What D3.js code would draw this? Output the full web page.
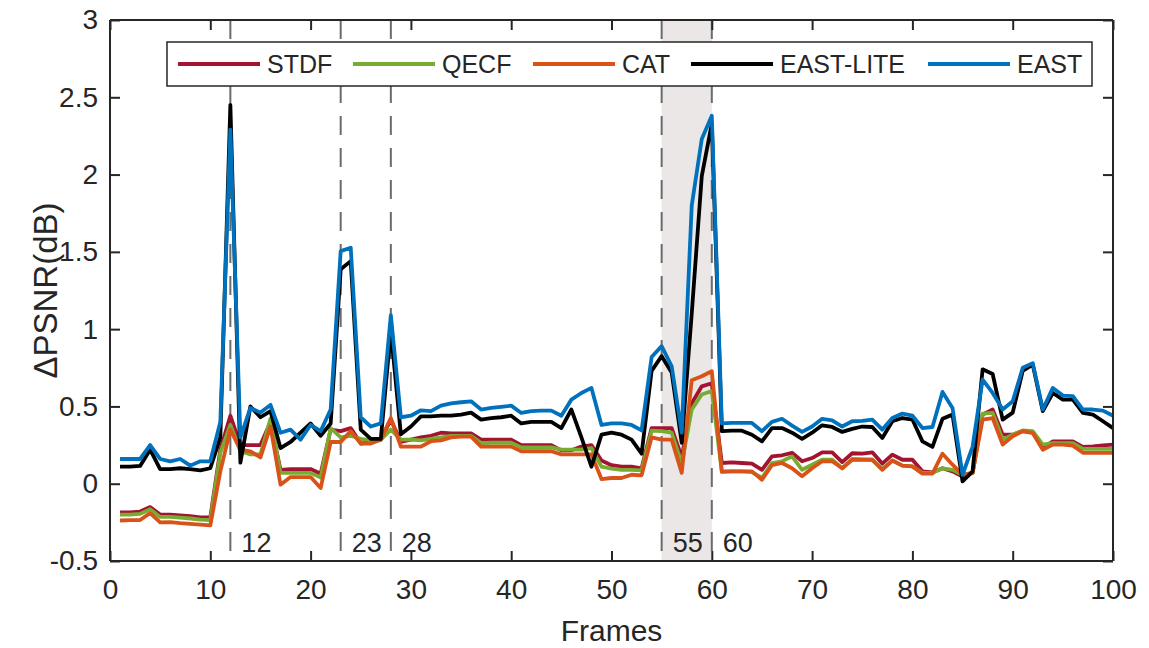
<!DOCTYPE html>
<html>
<head>
<meta charset="utf-8">
<script src="https://cdn.jsdelivr.net/npm/d3@7/dist/d3.min.js"></script>
<style>
  html, body { margin: 0; padding: 0; background: #fff; }
  svg text { font-family: "Liberation Sans", Arial, sans-serif; fill: #262626; }
</style>
</head>
<body>
<svg id="chart" width="1149" height="648"></svg>
<script>
const frames = d3.range(1, 101);
const seriesNames = ["STDF", "QECF", "CAT", "EAST-LITE", "EAST"];
const seriesColors = ["#A2142F", "#77AC30", "#D95319", "#000000", "#0072BD"];

const STDF = [-0.186,-0.186,-0.18,-0.151,-0.20,-0.20,-0.205,-0.21,-0.218,-0.218,
  0.22,0.44,0.25,0.25,0.25,0.40,0.09,0.095,0.095,0.095,
  0.065,0.35,0.34,0.36,0.26,0.27,0.285,0.415,0.27,0.285,
  0.30,0.31,0.33,0.325,0.325,0.325,0.285,0.285,0.285,0.285,
  0.25,0.25,0.25,0.25,0.216,0.216,0.24,0.25,0.15,0.12,
  0.11,0.11,0.10,0.36,0.36,0.36,0.17,0.52,0.63,0.65,
  0.134,0.138,0.134,0.13,0.09,0.177,0.184,0.20,0.145,0.166,
  0.203,0.203,0.14,0.197,0.194,0.203,0.13,0.188,0.155,0.155,
  0.08,0.073,0.10,0.08,0.047,0.07,0.447,0.48,0.317,0.317,
  0.34,0.333,0.23,0.274,0.274,0.274,0.238,0.242,0.248,0.253];
const QECF = [-0.20,-0.20,-0.195,-0.165,-0.215,-0.215,-0.22,-0.225,-0.232,-0.235,
  0.20,0.38,0.21,0.19,0.19,0.42,0.07,0.07,0.07,0.07,
  0.04,0.36,0.30,0.31,0.29,0.28,0.285,0.35,0.285,0.285,
  0.28,0.29,0.30,0.31,0.31,0.31,0.263,0.265,0.265,0.265,
  0.235,0.235,0.235,0.235,0.22,0.22,0.22,0.23,0.11,0.097,
  0.09,0.09,0.086,0.343,0.34,0.33,0.13,0.48,0.577,0.60,
  0.08,0.08,0.08,0.075,0.037,0.134,0.145,0.177,0.09,0.123,
  0.155,0.155,0.10,0.16,0.157,0.155,0.095,0.15,0.117,0.112,
  0.07,0.07,0.10,0.09,0.058,0.07,0.454,0.458,0.285,0.317,
  0.345,0.34,0.253,0.263,0.263,0.263,0.225,0.225,0.225,0.225];
const CAT = [-0.238,-0.235,-0.235,-0.19,-0.25,-0.248,-0.255,-0.26,-0.265,-0.27,
  0.08,0.35,0.22,0.21,0.17,0.37,-0.006,0.043,0.043,0.043,
  -0.028,0.27,0.27,0.34,0.26,0.26,0.285,0.425,0.24,0.24,
  0.24,0.275,0.28,0.30,0.305,0.305,0.24,0.24,0.24,0.24,
  0.21,0.21,0.21,0.21,0.19,0.19,0.19,0.19,0.03,0.037,
  0.037,0.058,0.054,0.30,0.285,0.285,0.07,0.67,0.695,0.728,
  0.076,0.08,0.08,0.08,0.026,0.12,0.134,0.10,0.048,0.10,
  0.145,0.145,0.10,0.155,0.155,0.155,0.09,0.15,0.117,0.112,
  0.065,0.065,0.194,0.123,0.058,0.07,0.415,0.425,0.253,0.307,
  0.34,0.328,0.22,0.253,0.253,0.246,0.20,0.20,0.20,0.20];
const EAST_LITE = [0.11,0.11,0.115,0.22,0.095,0.095,0.10,0.095,0.086,0.10,
  0.30,2.45,0.136,0.50,0.43,0.47,0.23,0.27,0.33,0.39,
  0.31,0.39,1.387,1.44,0.35,0.29,0.29,0.99,0.32,0.37,
  0.436,0.436,0.44,0.44,0.447,0.46,0.415,0.425,0.43,0.44,
  0.39,0.40,0.40,0.40,0.36,0.48,0.30,0.11,0.317,0.33,
  0.317,0.285,0.194,0.73,0.825,0.72,0.265,1.10,1.99,2.33,
  0.34,0.343,0.343,0.317,0.274,0.36,0.36,0.33,0.29,0.33,
  0.378,0.367,0.335,0.355,0.37,0.367,0.296,0.404,0.425,0.415,
  0.274,0.238,0.42,0.447,0.015,0.08,0.74,0.71,0.415,0.46,
  0.73,0.77,0.47,0.587,0.544,0.544,0.458,0.447,0.404,0.36];
const EAST = [0.16,0.16,0.16,0.25,0.16,0.145,0.16,0.117,0.145,0.145,
  0.40,2.29,0.30,0.49,0.46,0.51,0.33,0.35,0.285,0.38,
  0.34,0.48,1.505,1.527,0.43,0.37,0.39,1.09,0.43,0.44,
  0.475,0.47,0.505,0.52,0.527,0.533,0.48,0.49,0.497,0.505,
  0.458,0.47,0.473,0.473,0.44,0.544,0.587,0.62,0.38,0.39,
  0.39,0.38,0.345,0.82,0.89,0.76,0.33,1.80,2.23,2.38,
  0.39,0.393,0.393,0.393,0.34,0.40,0.42,0.376,0.335,0.37,
  0.42,0.41,0.37,0.404,0.406,0.415,0.35,0.425,0.454,0.44,
  0.36,0.367,0.594,0.49,0.058,0.24,0.674,0.587,0.48,0.533,
  0.75,0.78,0.48,0.62,0.57,0.566,0.48,0.48,0.473,0.44];

const xTicks = [0,10,20,30,40,50,60,70,80,90,100];
const yTicks = [-0.5,0,0.5,1,1.5,2,2.5,3];
const markedFrames = [12, 23, 28, 55, 60];
const shadedRange = [55, 60];

const allSeries = [STDF, QECF, CAT, EAST_LITE, EAST];

const svg = d3.select("#chart");
const m = {left: 110, right: 1113, top: 20, bottom: 561};
const x = d3.scaleLinear().domain([0, 100]).range([m.left, m.right]);
const y = d3.scaleLinear().domain([-0.5, 3]).range([m.bottom, m.top]);

const defs = svg.append("defs");
defs.append("clipPath").attr("id", "clip").append("rect")
  .attr("x", m.left).attr("y", m.top).attr("width", m.right - m.left).attr("height", m.bottom - m.top);

// shaded region
svg.append("rect")
  .attr("x", x(shadedRange[0])).attr("y", m.top)
  .attr("width", x(shadedRange[1]) - x(shadedRange[0]))
  .attr("height", m.bottom - m.top)
  .attr("fill", "#ebe7e7");

// dashed marker lines
svg.append("g").selectAll("line").data(markedFrames).join("line")
  .attr("x1", d => x(d)).attr("x2", d => x(d))
  .attr("y1", m.top).attr("y2", m.bottom)
  .attr("stroke", "#6b6b6b").attr("stroke-width", 2)
  .attr("stroke-dasharray", "19,13");

// series lines
const line = d3.line().x((d, i) => x(frames[i])).y(d => y(d));
const gLines = svg.append("g").attr("clip-path", "url(#clip)");
allSeries.forEach((s, k) => {
  gLines.append("path").datum(s)
    .attr("d", line)
    .attr("fill", "none")
    .attr("stroke", seriesColors[k])
    .attr("stroke-width", 3.8)
    .attr("stroke-linejoin", "round");
});

// marker labels
svg.append("g").selectAll("text").data(markedFrames).join("text")
  .attr("x", d => x(d) + 11).attr("y", 552)
  .attr("font-size", 27)
  .text(d => d);

// axes
const axisColor = "#262626";
const xAxis = svg.append("g").attr("transform", `translate(0,${m.bottom})`)
  .call(d3.axisBottom(x).tickValues(xTicks).tickSize(-10).tickPadding(18).tickFormat(d => String(d)));
const xAxisTop = svg.append("g").attr("transform", `translate(0,${m.top})`)
  .call(d3.axisTop(x).tickValues(xTicks).tickSize(-10).tickFormat(""));
const yAxis = svg.append("g").attr("transform", `translate(${m.left},0)`)
  .call(d3.axisLeft(y).tickValues(yTicks).tickSize(-10).tickPadding(12).tickFormat(d => String(d)));
const yAxisRight = svg.append("g").attr("transform", `translate(${m.right},0)`)
  .call(d3.axisRight(y).tickValues(yTicks).tickSize(-10).tickFormat(""));

[xAxis, xAxisTop, yAxis, yAxisRight].forEach(g => {
  g.select(".domain").attr("stroke", axisColor).attr("stroke-width", 2);
  g.selectAll(".tick line").attr("stroke", axisColor).attr("stroke-width", 2);
  g.selectAll(".tick text").attr("font-size", 28).attr("fill", axisColor)
    .attr("font-family", "'Liberation Sans', Arial, sans-serif");
});
xAxis.selectAll(".domain").attr("d", `M${m.left},0H${m.right}`);
yAxis.selectAll(".domain").attr("d", `M0,${m.bottom}V${m.top}`);
xAxisTop.selectAll(".domain").attr("d", `M${m.left},0H${m.right}`);
yAxisRight.selectAll(".domain").attr("d", `M0,${m.bottom}V${m.top}`);

// axis titles
svg.append("text")
  .attr("x", (m.left + m.right) / 2).attr("y", 641)
  .attr("text-anchor", "middle").attr("font-size", 30)
  .text("Frames");
svg.append("text")
  .attr("transform", `translate(57,${(m.top + m.bottom) / 2}) rotate(-90)`)
  .attr("text-anchor", "middle").attr("font-size", 33)
  .text("ΔPSNR(dB)");

// legend
const legendBox = {x: 167, y: 42, w: 925, h: 44};
const lg = svg.append("g");
lg.append("rect")
  .attr("x", legendBox.x).attr("y", legendBox.y)
  .attr("width", legendBox.w).attr("height", legendBox.h)
  .attr("fill", "#fff").attr("stroke", axisColor).attr("stroke-width", 1.5);
const legendStarts = [178, 353, 533, 691, 928];
seriesNames.forEach((name, k) => {
  const lx = legendStarts[k];
  const cy = legendBox.y + legendBox.h / 2;
  lg.append("line").attr("x1", lx).attr("x2", lx + 82)
    .attr("y1", cy).attr("y2", cy)
    .attr("stroke", seriesColors[k]).attr("stroke-width", 4);
  lg.append("text").attr("x", lx + 89).attr("y", cy + 9)
    .attr("font-size", 25).text(name);
});
</script>
</body>
</html>
